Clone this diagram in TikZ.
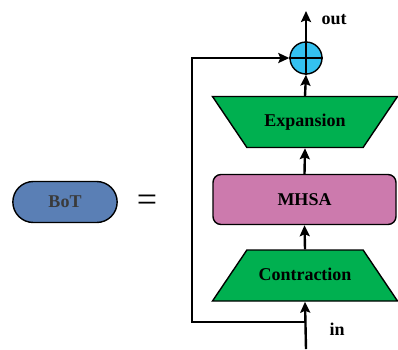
\documentclass[tikz,border=0pt]{standalone}
\usepackage{fontspec}
\setmainfont{Liberation Serif}
\usetikzlibrary{positioning,arrows.meta,shapes.geometric,shapes.misc}
\definecolor{botblue}{HTML}{5A7FB5}
\definecolor{blockgreen}{HTML}{00B050}
\definecolor{mhsapink}{HTML}{CC7AAD}
\definecolor{sumblue}{HTML}{34C1F0}
\definecolor{bottext}{HTML}{3A3A3A}

\begin{document}
\begin{tikzpicture}[
  x=1pt, y=-1pt,
  font=\fontsize{18}{21}\selectfont\bfseries,
  trap/.style={trapezium, trapezium left angle=56, trapezium right angle=56,
               trapezium stretches body, draw=black, line width=1.4pt,
               fill=blockgreen, minimum width=185pt, text height=12pt,
               text depth=3pt, inner ysep=18pt, inner xsep=0pt},
  attn/.style={draw=black, line width=1.4pt, rounded corners=8pt,
               fill=mhsapink, minimum width=183pt, minimum height=50pt},
  flow/.style={-{Stealth[length=11pt, width=10pt, inset=2pt]}, line width=2.4pt},
  lbl/.style={font=\fontsize{18}{21}\selectfont\bfseries},
]
  \useasboundingbox (0,0) rectangle (398,349);

  % left side: block symbol
  \node[rounded rectangle, draw=black, line width=1.4pt, fill=botblue,
        minimum width=111pt, minimum height=41pt, text=bottext]
    (bot) at (65,202) {BoT};
  \node[font=\fontsize{36}{36}\selectfont] (eq) at (147,203) {=};

  % main path
  \node[trap] (contr) at (305,275.5) {Contraction};
  \node[attn] (mhsa) at (304.5,199.5) {MHSA};
  \node[trap, shape border rotate=180] (expan) at (305,122) {Expansion};
  \node[circle, draw=black, line width=1.4pt, fill=sumblue,
        minimum size=32pt, inner sep=0pt] (sum) at (306,58) {};
  \draw[line width=1.4pt] (sum.north) -- (sum.south) (sum.west) -- (sum.east);

  \coordinate (in) at (306,349);
  \coordinate (out) at (306,11);
  \coordinate (split) at (306,322);
  \coordinate (skip) at (192,322);

  \draw[flow] (in) -- (contr.south);
  \draw[flow] (contr.north) -- (mhsa.south);
  \draw[flow] (mhsa.north) -- (expan.south);
  \draw[flow] (expan.north) -- (sum.south);
  \draw[flow] (sum.north) -- (out);

  % residual
  \draw[flow] (split) -- (skip) |- (sum.west);

  \node[lbl] (outlbl) at (334,20) {out};
  \node[lbl] (inlbl) at (337,329) {in};
\end{tikzpicture}
\end{document}
